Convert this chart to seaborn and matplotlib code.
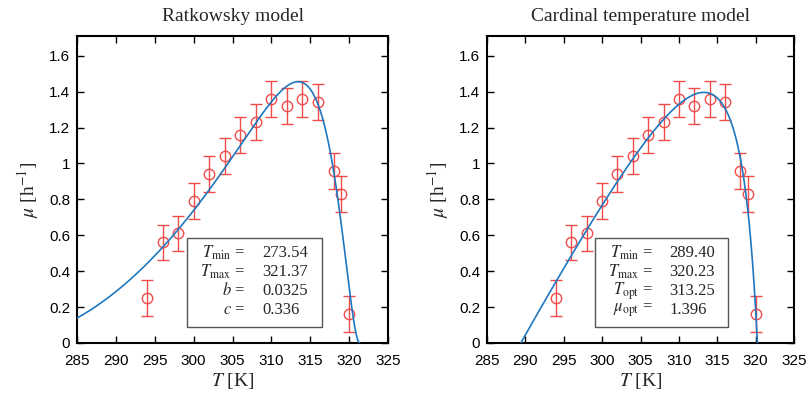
import numpy as np
import pandas as pd
import matplotlib
matplotlib.use("Agg")
import matplotlib.pyplot as plt
import seaborn as sns
from matplotlib.patches import Rectangle

# ---- data ----
T_obs = [294, 296, 298, 300, 302, 304, 306, 308, 310, 312, 314, 316, 318, 319, 320]
mu_obs = [0.25, 0.56, 0.61, 0.79, 0.94, 1.04, 1.16, 1.23, 1.36, 1.32, 1.36, 1.34, 0.96, 0.83, 0.16]
mu_err = [0.10] * len(T_obs)

titles = ["Ratkowsky model", "Cardinal temperature model"]

# fitted parameters shown in the chart boxes
rat_Tmin, rat_Tmax, rat_b, rat_c = 273.54, 321.37, 0.0325, 0.336
ctm_Tmin, ctm_Tmax, ctm_Topt, ctm_muopt = 289.40, 320.23, 313.25, 1.396

rat_labels = [r"$T_{\rm min}$ =", r"$T_{\rm max}$ =", r"$b$ =", r"$c$ ="]
rat_values = ["273.54", "321.37", "0.0325", "0.336"]
ctm_labels = [r"$T_{\rm min}$ =", r"$T_{\rm max}$ =", r"$T_{\rm opt}$ =", r"$\mu_{\rm opt}$ ="]
ctm_values = ["289.40", "320.23", "313.25", "1.396"]

x_ticks = [285, 290, 295, 300, 305, 310, 315, 320, 325]
y_ticks = [0, 0.2, 0.4, 0.6, 0.8, 1.0, 1.2, 1.4, 1.6]
y_ticklabels = ["0", "0.2", "0.4", "0.6", "0.8", "1", "1.2", "1.4", "1.6"]


def ratkowsky(T):
    T = np.asarray(T, dtype=float)
    m = (rat_b * (T - rat_Tmin) * (1 - np.exp(rat_c * (T - rat_Tmax)))) ** 2
    return np.where((T > rat_Tmin) & (T < rat_Tmax), m, 0.0)


def ctm(T):
    # cardinal temperature model (n = 1)
    T = np.asarray(T, dtype=float)
    num = (T - ctm_Tmax) * (T - ctm_Tmin)
    den = (ctm_Topt - ctm_Tmin) * (T - ctm_Topt) - (ctm_Topt - ctm_Tmax) * (ctm_Tmin - T)
    m = ctm_muopt * num / den
    return np.where((T >= ctm_Tmin) & (T <= ctm_Tmax), m, np.nan)


sns.set_theme(style="white")
plt.rcParams["mathtext.fontset"] = "stix"
plt.rcParams["font.family"] = ["Liberation Sans", "DejaVu Sans"]

fig = plt.figure(figsize=(8.06, 3.97), dpi=100)
W, H = 806, 397
ax_pos = [(77, 388), (487, 794)]
top, bottom = 36, 343

df_obs = pd.DataFrame({"T": T_obs, "mu": mu_obs})
blue = "#1f77c0"
red = "#f24b4b"
serif = ["Liberation Serif", "DejaVu Serif"]

for i in range(2):
    l, r = ax_pos[i]
    ax = fig.add_axes([l / W, 1 - bottom / H, (r - l) / W, (bottom - top) / H])
    if i == 0:
        Tc = np.concatenate([np.linspace(285, rat_Tmax, 800), [rat_Tmax]])
        mc = ratkowsky(Tc)
        mc[-1] = 0.0
        labels, values = rat_labels, rat_values
    else:
        Tc = np.linspace(ctm_Tmin, ctm_Tmax, 2000)
        mc = ctm(Tc)
        labels, values = ctm_labels, ctm_values
    df_c = pd.DataFrame({"T": Tc, "mu": mc})
    sns.lineplot(data=df_c, x="T", y="mu", ax=ax, color=blue, lw=1.2,
                 sort=False, estimator=None, zorder=3)
    ax.errorbar(df_obs["T"], df_obs["mu"], yerr=mu_err, fmt="o", mfc="none",
                mec=red, ecolor=red, mew=1.0, ms=7.5, elinewidth=1.0,
                capsize=4, capthick=1.0, zorder=2)

    ax.set_xlim(285, 325)
    ax.set_ylim(0, 1.71)
    ax.set_xticks(x_ticks)
    ax.set_yticks(y_ticks)
    ax.set_yticklabels(y_ticklabels)
    ax.tick_params(direction="in", length=5, width=1, top=True, right=True,
                   bottom=True, left=True, labelsize=11, colors="black",
                   pad=5)
    ax.tick_params(axis="x", pad=8)
    for s in ax.spines.values():
        s.set_color("black")
        s.set_linewidth(1.5)
    ax.set_xlabel(r"$T$ [K]", fontsize=14, family=serif, labelpad=2)
    ax.set_ylabel(r"$\mu$ [h$^{-1}$]", fontsize=14, family=serif, labelpad=6)
    ax.set_title(titles[i], fontsize=14, family=serif, pad=11)

    box = Rectangle((299.1, 0.09), 17.35, 0.495, facecolor="white",
                    edgecolor="#555555", lw=1.0, zorder=4)
    ax.add_patch(box)
    ys = [0.503, 0.397, 0.291, 0.184]
    for lab, val, yy in zip(labels, values, ys):
        ax.text(306.6, yy, lab, ha="right", va="center", fontsize=12,
                family=serif, zorder=5)
        ax.text(308.8, yy, val, ha="left", va="center", fontsize=12,
                family=serif, zorder=5)

fig.savefig("out.png", dpi=100)
